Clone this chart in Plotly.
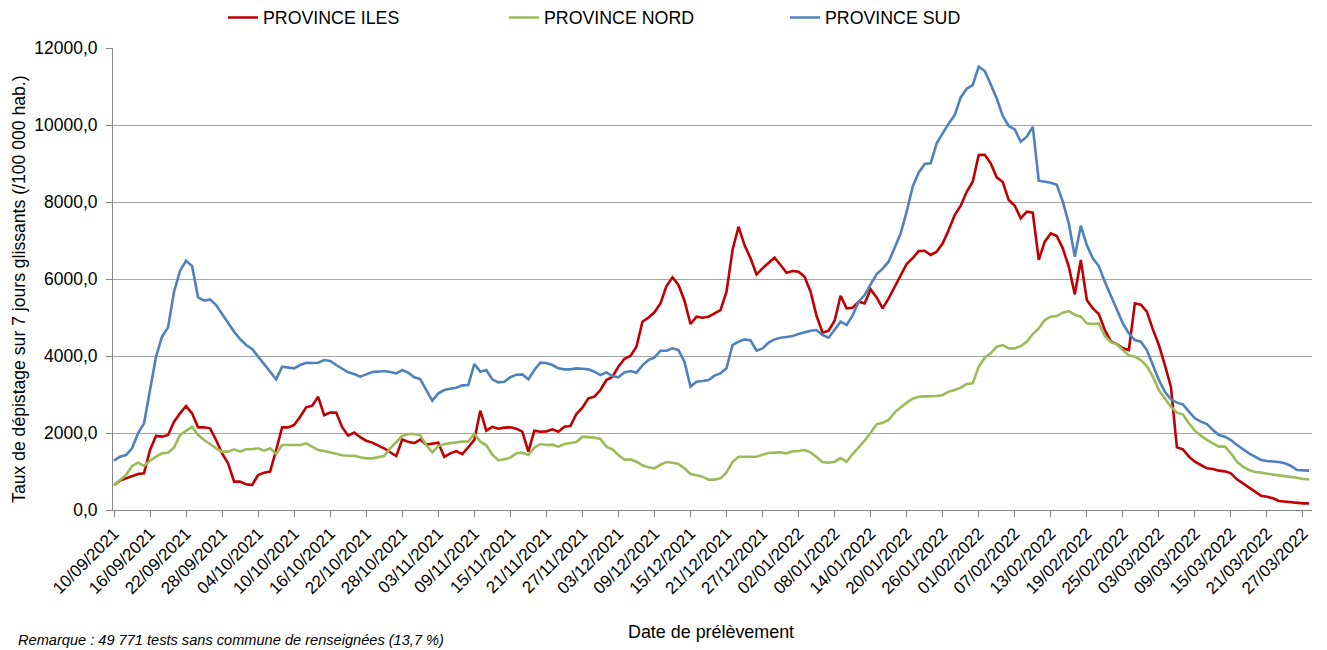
import datetime as dt
import plotly.graph_objects as go

start = dt.date(2021, 9, 10)
n_days = 200
dates = [start + dt.timedelta(days=i) for i in range(n_days)]

iles = [
    649, 762, 822, 883, 935, 952, 1558, 1922, 1905, 1948,
    2294, 2511, 2701, 2511, 2147, 2147, 2121, 1818, 1472, 1212,
    736, 736, 667, 649, 909, 970, 996, 1558, 2147, 2147,
    2208, 2424, 2666, 2710, 2940, 2460, 2530, 2530, 2150, 1930,
    2010, 1890, 1800, 1750, 1680, 1600, 1500, 1400, 1830, 1770,
    1740, 1830, 1700, 1730, 1750, 1380, 1470, 1530, 1450, 1630,
    1820, 2580, 2060, 2160, 2110, 2140, 2147, 2112, 2034, 1515,
    2060, 2034, 2043, 2095, 2034, 2164, 2182, 2493, 2658, 2900,
    2943, 3117, 3376, 3463, 3723, 3930, 4000, 4242, 4891, 4995,
    5134, 5367, 5817, 6043, 5844, 5437, 4831, 5021, 4995, 5021,
    5100, 5194, 5670, 6752, 7358, 6882, 6536, 6121, 6277, 6406,
    6554, 6363, 6164, 6207, 6190, 6060, 5670, 5038, 4605, 4657,
    4917, 5566, 5237, 5255, 5411, 5367, 5731, 5523, 5237, 5497,
    5800, 6103, 6389, 6540, 6726, 6735, 6623, 6709, 6926, 7272,
    7661, 7904, 8267, 8527, 9220, 9228, 9003, 8640, 8518, 8051,
    7904, 7575, 7748, 7722, 6500, 6969, 7185, 7116, 6796, 6320,
    5600, 6493, 5454, 5237, 5090, 4675, 4380, 4311, 4199, 4155,
    5370, 5333, 5151, 4692, 4285, 3766, 3203, 1628, 1576, 1385,
    1255, 1169, 1082, 1065, 1022, 1004, 952, 796, 693, 580,
    467, 372, 346, 303, 234, 216, 190, 173, 173, 173,
]

nord = [
    649, 779, 909, 1143, 1229, 1143, 1281, 1385, 1472, 1489,
    1627, 1948, 2060, 2164, 1948, 1818, 1714, 1602, 1515, 1515,
    1576, 1515, 1576, 1576, 1602, 1541, 1602, 1454, 1688, 1688,
    1688, 1688, 1731, 1640, 1558, 1532, 1489, 1446, 1420, 1411,
    1411, 1368, 1342, 1342, 1368, 1402, 1602, 1775, 1922, 1974,
    1974, 1939, 1688, 1500, 1662, 1714, 1731, 1766, 1775, 1780,
    1980, 1775, 1680, 1440, 1290, 1320, 1360, 1472, 1489, 1428,
    1619, 1714, 1688, 1697, 1645, 1714, 1731, 1766, 1905, 1896,
    1879, 1844, 1645, 1576, 1428, 1307, 1316, 1255, 1160, 1108,
    1082, 1177, 1247, 1229, 1195, 1082, 935, 900, 866, 790,
    790, 822, 978, 1247, 1385, 1385, 1385, 1385, 1437, 1480,
    1489, 1498, 1472, 1524, 1532, 1558, 1498, 1376, 1247, 1229,
    1255, 1350, 1255, 1454, 1627, 1801, 2008, 2225, 2268, 2337,
    2536, 2666, 2788, 2890, 2943, 2952, 2952, 2961, 2987, 3073,
    3117, 3177, 3272, 3290, 3723, 3956, 4069, 4242, 4285, 4199,
    4199, 4259, 4372, 4571, 4718, 4934, 5021, 5038, 5125, 5168,
    5073, 5021, 4848, 4831, 4848, 4519, 4360, 4303, 4155, 4017,
    3982, 3896, 3740, 3463, 3117, 2900, 2684, 2528, 2485, 2251,
    2060, 1931, 1818, 1731, 1645, 1645, 1472, 1255, 1125, 1039,
    987, 970, 935, 918, 900, 883, 866, 840, 805, 796,
]

sud = [
    1281, 1385, 1428, 1602, 1991, 2251, 3117, 3982, 4502, 4744,
    5670, 6216, 6475, 6337, 5523, 5436, 5471, 5324, 5090, 4865,
    4631, 4441, 4285, 4181, 3982, 3809, 3593, 3394, 3723, 3705,
    3679, 3766, 3826, 3820, 3826, 3896, 3870, 3766, 3679, 3575,
    3532, 3463, 3523, 3584, 3593, 3610, 3584, 3549, 3636, 3567,
    3445, 3402, 3117, 2839, 3030, 3117, 3151, 3177, 3238, 3246,
    3792, 3593, 3636, 3394, 3316, 3333, 3450, 3515, 3523, 3394,
    3636, 3826, 3818, 3766, 3679, 3653, 3653, 3679, 3670, 3653,
    3593, 3506, 3575, 3480, 3445, 3575, 3610, 3567, 3757, 3896,
    3965, 4138, 4138, 4199, 4155, 3852, 3203, 3333, 3350, 3376,
    3490, 3549, 3679, 4285, 4372, 4432, 4406, 4138, 4199, 4346,
    4432, 4476, 4493, 4519, 4571, 4614, 4657, 4675, 4545, 4476,
    4675, 4891, 4805, 5056, 5411, 5584, 5861, 6129, 6268, 6450,
    6813, 7185, 7748, 8400, 8761, 8986, 9003, 9523, 9782, 10042,
    10258, 10717, 10942, 11038, 11514, 11401, 11055, 10691, 10233, 9973,
    9886, 9566, 9696, 9950, 8553, 8527, 8501, 8449, 8008, 7445,
    6580, 7384, 6882, 6536, 6337, 5930, 5560, 5194, 4848, 4588,
    4415, 4372, 4155, 3766, 3376, 3073, 2874, 2788, 2744, 2554,
    2381, 2294, 2233, 2078, 1948, 1905, 1818, 1688, 1576, 1472,
    1385, 1299, 1273, 1264, 1247, 1212, 1143, 1039, 1039, 1022,
]

series_names = ["PROVINCE ILES", "PROVINCE NORD", "PROVINCE SUD"]
series_values = [iles, nord, sud]
series_colors = ["#C00000", "#9BBB59", "#4F81BD"]

x_tick_dates = [start + dt.timedelta(days=6 * k) for k in range(34)]
x_tick_text = [d.strftime("%d/%m/%Y") for d in x_tick_dates]
y_tick_vals = [0, 2000, 4000, 6000, 8000, 10000, 12000]
y_tick_text = [f"{v},0" for v in y_tick_vals]

FONT = "Liberation Sans, Arial, sans-serif"

fig = go.Figure()
for name, vals, col in zip(series_names, series_values, series_colors):
    fig.add_trace(go.Scatter(
        x=dates, y=vals, mode="lines", name=name,
        line=dict(color=col, width=2.6),
    ))

# the page body has an 8px default margin, so the figure is 8px smaller
fig.update_layout(
    width=1319, height=642,
    margin=dict(l=105, r=15, t=40, b=140, autoexpand=False),
    paper_bgcolor="white", plot_bgcolor="white",
    font=dict(family=FONT, size=16, color="#000000"),
    showlegend=True,
    legend=dict(
        orientation="h", x=0.0917, xanchor="left", y=1.065, yanchor="middle",
        font=dict(size=17.8, family=FONT, color="#000000"),
        entrywidth=236, entrywidthmode="pixels",
        itemwidth=30, tracegroupgap=0,
    ),
    xaxis=dict(
        type="date",
        range=[dt.datetime(2021, 9, 10) - dt.timedelta(hours=4),
               dt.datetime(2022, 3, 28) + dt.timedelta(hours=12)],
        tickmode="array", tickvals=x_tick_dates, ticktext=x_tick_text,
        tickangle=-45, tickfont=dict(size=17, family=FONT, color="#000000"),
        showgrid=False, showline=True, linecolor="#868686", linewidth=1,
        ticks="outside", ticklen=6, tickcolor="#868686",
        zeroline=False, automargin=False,
    ),
    yaxis=dict(
        range=[0, 12000],
        tickmode="array", tickvals=y_tick_vals, ticktext=y_tick_text,
        tickfont=dict(size=17.5, family=FONT, color="#000000"),
        showgrid=True, gridcolor="#a6a6a6", gridwidth=1,
        showline=True, linecolor="#868686", linewidth=1,
        ticks="outside", ticklen=6, tickcolor="#868686",
        ticklabelstandoff=5,
        zeroline=False, automargin=False,
    ),
    annotations=[
        dict(text="Taux de dépistage sur 7 jours glissants (/100 000 hab.)",
             xref="paper", yref="paper", x=-0.079, y=0.477,
             xanchor="center", yanchor="middle", textangle=-90,
             showarrow=False, font=dict(size=17.6, family=FONT, color="#000000")),
        dict(text="Date de prélèvement",
             xref="paper", yref="paper", x=0.499, y=-0.264,
             xanchor="center", yanchor="middle",
             showarrow=False, font=dict(size=17.9, family=FONT, color="#000000")),
        dict(text="<i>Remarque : 49 771 tests sans commune de renseignées (13,7 %)</i>",
             xref="paper", yref="paper", x=-0.081, y=-0.281,
             xanchor="left", yanchor="middle",
             showarrow=False, font=dict(size=14.6, family=FONT, color="#000000")),
    ],
)

fig.write_html("out.html")
